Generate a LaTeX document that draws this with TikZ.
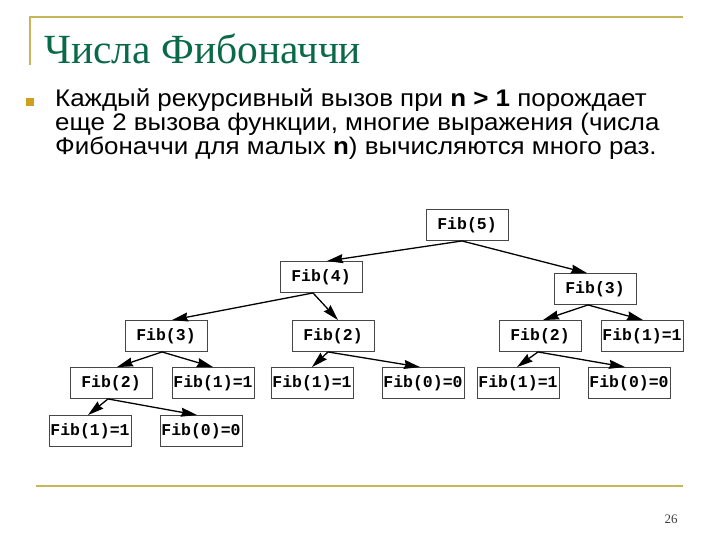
\documentclass[tikz,border=0pt]{standalone}
\usepackage{fontspec}
\setmainfont{Liberation Serif}
\newfontfamily\bodyfont[FakeStretch=1.08]{Liberation Sans}
\newfontfamily\codefont{Liberation Mono}
\usetikzlibrary{arrows.meta}
\definecolor{gold}{RGB}{200,180,90}
\definecolor{bulletgold}{RGB}{205,160,30}
\definecolor{titlegreen}{RGB}{10,105,70}
\definecolor{boxgray}{RGB}{70,70,70}
\tikzset{
  fib/.style={draw=boxgray, line width=0.9pt, minimum width=82pt, minimum height=31pt,
    inner sep=0pt, font=\codefont\bfseries\fontsize{16.5}{18}\selectfont},
  link/.style={line width=1.3pt, -{Stealth[length=16pt,width=9pt,inset=1.5pt]}},
  bodyline/.style={anchor=base west, inner sep=0pt, font=\bodyfont\fontsize{24}{24}\selectfont}
}
\begin{document}
\begin{tikzpicture}[x=1pt,y=-1pt]
\useasboundingbox (0,0) rectangle (720,540);
% frame lines
\draw[gold, line width=1.6pt] (29,17) -- (683,17);
\draw[gold, line width=1.6pt] (30,17) -- (30,65);
\draw[gold, line width=2.2pt] (36,486) -- (683,486);
% title
\node[anchor=base west, inner sep=0pt, text=titlegreen, font=\fontsize{41.5}{43}\selectfont] (title) at (44,64) {Числа Фибоначчи};
% bullet
\node[fill=bulletgold, minimum size=8pt, inner sep=0pt] (bul) at (30,102) {};
\node[bodyline] (l1) at (55,107) {Каждый рекурсивный вызов при \textbf{n > 1} порождает};
\node[bodyline] (l2) at (55,131) {еще 2 вызова функции, многие выражения (числа};
\node[bodyline] (l3) at (55,155) {Фибоначчи для малых \textbf{n}) вычисляются много раз.};
% page number
\node[anchor=base, inner sep=0pt, text=black!75, font=\fontsize{13}{14}\selectfont] (pg) at (671,523) {26};
% tree
\node[fib] (f5) at (467,225) {Fib(5)};
\node[fib] (f4) at (321,277) {Fib(4)};
\node[fib] (f3r) at (595,289) {Fib(3)};
\node[fib] (f3l) at (166,336) {Fib(3)};
\node[fib] (f2m) at (333,336) {Fib(2)};
\node[fib] (f2r) at (540,336) {Fib(2)};
\node[fib] (f1r) at (642,336) {Fib(1)=1};
\node[fib] (f2a) at (111,383) {Fib(2)};
\node[fib] (f1a) at (213,383) {Fib(1)=1};
\node[fib] (f1b) at (312,383) {Fib(1)=1};
\node[fib] (f0b) at (423,383) {Fib(0)=0};
\node[fib] (f1c) at (518,383) {Fib(1)=1};
\node[fib] (f0c) at (629,383) {Fib(0)=0};
\node[fib] (f1d) at (90,431) {Fib(1)=1};
\node[fib] (f0d) at (201,431) {Fib(0)=0};
% connectors
\draw[link] ([xshift=-5pt]f5.south) -- ([xshift=6pt]f4.north);
\draw[link] ([xshift=-5pt]f5.south) -- ([xshift=-8pt]f3r.north);
\draw[link] ([xshift=-8pt]f4.south) -- ([xshift=6pt]f3l.north);
\draw[link] ([xshift=-8pt]f4.south) -- ([xshift=5pt]f2m.north);
\draw[link] ([xshift=-4pt]f3l.south) -- ([xshift=6pt]f2a.north);
\draw[link] ([xshift=-4pt]f3l.south) -- (f1a.north);
\draw[link] ([xshift=-5pt]f2m.south) -- (f1b.north);
\draw[link] ([xshift=-5pt]f2m.south) -- ([xshift=-3pt]f0b.north);
\draw[link] ([xshift=-7pt]f3r.south) -- ([xshift=3pt]f2r.north);
\draw[link] ([xshift=-7pt]f3r.south) -- ([xshift=1pt]f1r.north);
\draw[link] ([xshift=-2pt]f2r.south) -- ([xshift=-1pt]f1c.north);
\draw[link] ([xshift=-2pt]f2r.south) -- ([xshift=-4pt]f0c.north);
\draw[link] ([xshift=-3pt]f2a.south) -- ([xshift=-2pt]f1d.north);
\draw[link] ([xshift=-3pt]f2a.south) -- ([xshift=-4pt]f0d.north);
\end{tikzpicture}
\end{document}
